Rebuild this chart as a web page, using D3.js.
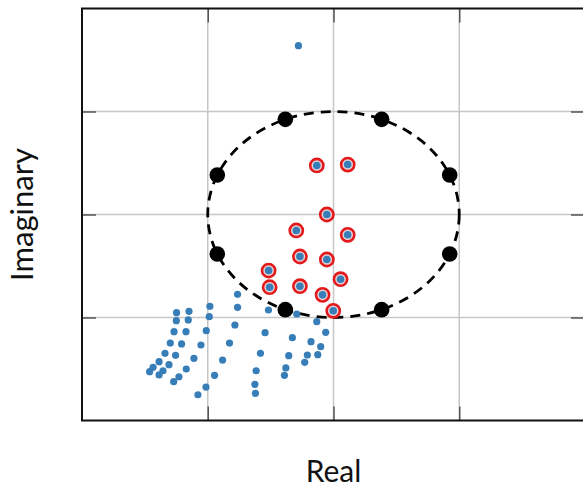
<!DOCTYPE html>
<html>
<head>
<meta charset="utf-8">
<script src="https://cdn.jsdelivr.net/npm/d3@7"></script>
<style>
  body { margin: 0; background: #fff; }
  svg { display: block; }
  text { font-family: Lato, "DejaVu Sans", sans-serif; fill: #111; }
</style>
</head>
<body>
<svg class="chart"></svg>
<script>
// values (data units, unit circle centred at 0,0)
var ticks = [-1, 0, 1];

// blue points outside the circle
var outX = [-0.279, -0.763, -0.983, -0.763, -0.517, -0.292, -1.248, -1.149, -0.988, -1.250,
  -1.155, -0.133, -0.062, -0.544, -0.784, -1.012, -1.268, -1.173, -0.327, -0.179,
  -0.102, -1.298, -1.208, -1.054, -0.827, -0.581, -0.356, -0.208, -0.125, -0.229,
  -1.340, -1.256, -1.110, -0.882, -1.387, -1.308, -1.435, -1.462, -1.387, -1.356,
  -1.171, -1.229, -1.271, -0.946, -0.615, -0.379, -0.390, -0.625, -0.621, -1.014, -1.078];
var outY = [1.639, -0.775, -0.891, -0.901, -0.927, -0.966, -0.953, -0.940, -0.992, -1.031,
  -1.024, -1.041, -1.144, -1.147, -1.073, -1.128, -1.138, -1.138, -1.196, -1.235,
  -1.283, -1.248, -1.257, -1.267, -1.248, -1.348, -1.371, -1.364, -1.361, -1.435,
  -1.348, -1.367, -1.396, -1.413, -1.429, -1.458, -1.483, -1.526, -1.558, -1.517,
  -1.500, -1.575, -1.623, -1.561, -1.517, -1.490, -1.561, -1.649, -1.736, -1.675, -1.750];

// blue points inside the circle (red ring)
var inX = [-0.133, 0.113, -0.053, -0.296, 0.113, -0.267, -0.053, -0.516, 0.056, -0.508, -0.267, -0.087, -0.002];
var inY = [0.476, 0.485, 0.0, -0.155, -0.197, -0.408, -0.437, -0.544, -0.628, -0.706, -0.696, -0.780, -0.935];

// black points on the circle
var onX = [-0.383, 0.383, -0.924, 0.924, -0.924, 0.924, -0.383, 0.383];
var onY = [0.924, 0.924, 0.383, 0.383, -0.383, -0.383, -0.924, -0.924];

var width = 583;
var height = 489;
var svg = d3.select(".chart").attr("width", width).attr("height", height);

var pLeft = 82, pRight = 585, pTop = 8.5, pBottom = 420.5;

var x = d3.scaleLinear().domain([-2, 2]).range([pLeft, pRight]);
var y = d3.scaleLinear().domain([-2, 2]).range([pBottom, pTop]);

// grid
var grid = svg.append("g");
grid.selectAll(".gx").data(ticks).enter().append("line")
  .attr("x1", d => x(d)).attr("x2", d => x(d))
  .attr("y1", pTop).attr("y2", pBottom)
  .attr("stroke", "#c6c6c6").attr("stroke-width", 1.5);
grid.selectAll(".gy").data(ticks).enter().append("line")
  .attr("y1", d => y(d)).attr("y2", d => y(d))
  .attr("x1", pLeft).attr("x2", pRight)
  .attr("stroke", "#c6c6c6").attr("stroke-width", 1.5);

// inward ticks on all four sides
function styleAxis(g) {
  g.select(".domain").remove();
  g.selectAll(".tick line").attr("stroke", "#555").attr("stroke-width", 1.5);
}
svg.append("g").attr("transform", "translate(" + pLeft + ",0)")
  .call(d3.axisLeft(y).tickValues(ticks).tickSize(-14).tickFormat(""))
  .call(styleAxis);
svg.append("g").attr("transform", "translate(" + pRight + ",0)")
  .call(d3.axisRight(y).tickValues(ticks).tickSize(-14).tickFormat(""))
  .call(styleAxis);
svg.append("g").attr("transform", "translate(0," + pBottom + ")")
  .call(d3.axisBottom(x).tickValues(ticks).tickSize(-14).tickFormat(""))
  .call(styleAxis);
svg.append("g").attr("transform", "translate(0," + pTop + ")")
  .call(d3.axisTop(x).tickValues(ticks).tickSize(-14).tickFormat(""))
  .call(styleAxis);

// frame
svg.append("rect")
  .attr("x", pLeft).attr("y", pTop)
  .attr("width", pRight - pLeft).attr("height", pBottom - pTop)
  .attr("fill", "none").attr("stroke", "#111").attr("stroke-width", 2);

// unit circle
svg.append("ellipse")
  .attr("cx", x(0)).attr("cy", y(0))
  .attr("rx", x(1) - x(0)).attr("ry", y(0) - y(1))
  .attr("fill", "none").attr("stroke", "#000")
  .attr("stroke-width", 2.8).attr("stroke-dasharray", "10,7");

// outside points
svg.append("g").selectAll("circle").data(d3.range(outX.length)).enter().append("circle")
  .attr("cx", i => x(outX[i])).attr("cy", i => y(outY[i]))
  .attr("r", 3.6).attr("fill", "#377eb8");

// points on the circle
svg.append("g").selectAll("circle").data(d3.range(onX.length)).enter().append("circle")
  .attr("cx", i => x(onX[i])).attr("cy", i => y(onY[i]))
  .attr("r", 7.8).attr("fill", "#000");

// inside points with red ring
var inG = svg.append("g");
inG.selectAll(".ring").data(d3.range(inX.length)).enter().append("circle")
  .attr("cx", i => x(inX[i])).attr("cy", i => y(inY[i]))
  .attr("r", 6.6).attr("fill", "#e6d2d4")
  .attr("stroke", "#e31a1c").attr("stroke-width", 2.6);
inG.selectAll(".dot").data(d3.range(inX.length)).enter().append("circle")
  .attr("cx", i => x(inX[i])).attr("cy", i => y(inY[i]))
  .attr("r", 3.8).attr("fill", "#377eb8");

// axis labels
svg.append("text")
  .attr("x", x(0))
  .attr("y", 482)
  .attr("text-anchor", "middle")
  .style("font-size", "30px")
  .text("Real");

svg.append("text")
  .attr("transform", "translate(33," + y(0) + ") rotate(-90)")
  .attr("text-anchor", "middle")
  .style("font-size", "31px")
  .text("Imaginary");
</script>
</body>
</html>
